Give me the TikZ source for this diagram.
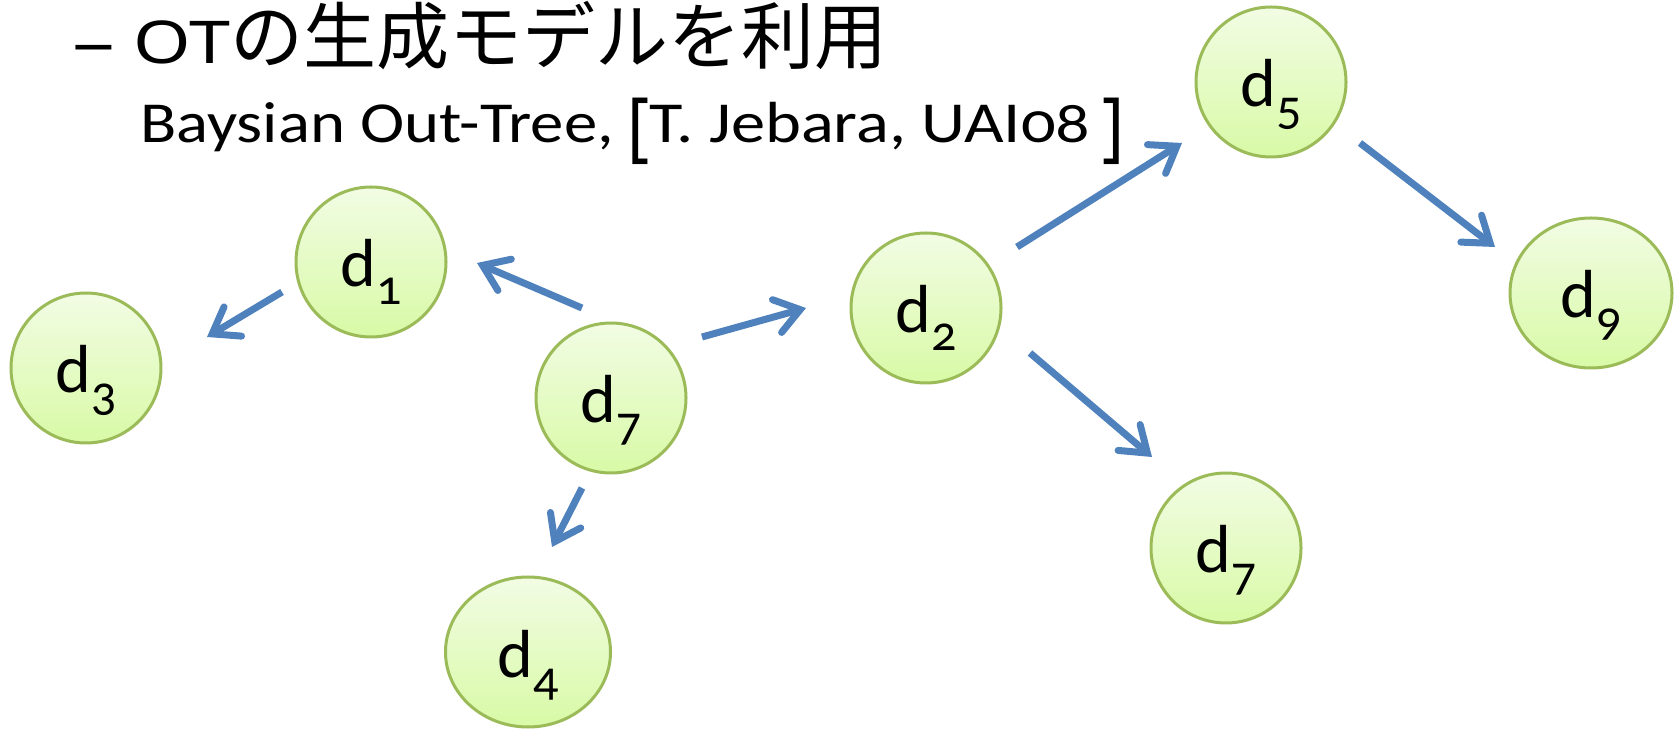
\documentclass[tikz,border=0pt]{standalone}
\usepackage{fontspec}
\setmainfont{Carlito}[Numbers=OldStyle]
\newfontfamily\jp{Noto Sans CJK JP}
\newfontfamily\headlatin{Noto Sans}
\usetikzlibrary{arrows.meta,shapes.geometric}

\definecolor{nodeedge}{RGB}{155,187,89}
\definecolor{nodetop}{RGB}{242,252,228}
\definecolor{nodebottom}{RGB}{216,250,166}
\definecolor{arrowblue}{RGB}{79,129,189}

\newcommand{\doc}[1]{d\raisebox{-18pt}{\fontsize{50}{50}\selectfont #1}}
\newcommand{\tallbracket}[1]{\raisebox{-10pt}{\scalebox{1.1}[1.25]{\headlatin\fontsize{61}{61}\selectfont #1}}}

\tikzset{
  docnode/.style={ellipse, draw=nodeedge, line width=3pt,
    top color=nodetop, bottom color=nodebottom,
    minimum width=150pt, minimum height=150pt, inner sep=0pt,
    font=\fontsize{68}{68}\selectfont, text height=50pt, text depth=0pt},
  arr/.style={draw=arrowblue, line width=7pt,
    -{Straight Barb[length=24pt,width=34pt,line cap=round,line join=miter]}},
}

\begin{document}
\begin{tikzpicture}[x=1pt,y=1pt]
\useasboundingbox (0,0) rectangle (1675,728);

% heading and reference line
\node[anchor=base west, inner sep=0pt] (title) at (72,664)
  {{\headlatin\fontsize{59}{62}\selectfont\scalebox{1.45}[1]{–}\hspace{19pt}\scalebox{1.25}[1]{OT}}%
   {\jp\fontsize{73}{76}\selectfont の生成モデルを利用}};
\node[anchor=base west, inner sep=0pt] (ref) at (140,585)
  {\fontsize{58}{62}\selectfont
   \scalebox{1.15}[1]{Baysian Out-Tree,}\kern14pt\tallbracket{[}\kern0pt%
   \scalebox{1.18}[1]{T. Jebara, UAI08}\kern12pt\tallbracket{]}};

% documents of the out-tree
\node[docnode] (d1) at (371,466) {\doc{1}};
\node[docnode] (d7) at (611,330) {\doc{7}};
\node[docnode] (d3) at (86,360) {\doc{3}};
\node[docnode, minimum width=165pt] (d4) at (528,76) {\doc{4}};
\node[docnode] (d2) at (926,420) {\doc{2}};
\node[docnode] (d5) at (1271,646) {\doc{5}};
\node[docnode, minimum width=162pt] (d9) at (1591,435) {\doc{9}};
\node[docnode] (d7b) at (1226,180) {\doc{7}};

% directed edges
\draw[arr] ([shift={(-29,90)}]d7.center) -- ([shift={(106,-1)}]d1.center);
\draw[arr] ([shift={(-89,-30)}]d1.center) -- ([shift={(121,31)}]d3.center);
\draw[arr] ([shift={(-29,-90)}]d7.center) -- ([shift={(24,105)}]d4.center);
\draw[arr] ([shift={(91,61)}]d7.center) -- ([shift={(-120,0)}]d2.center);
\draw[arr] ([shift={(91,61)}]d2.center) -- ([shift={(-89,-61)}]d5.center);
\draw[arr] ([shift={(104,-45)}]d2.center) -- ([shift={(-74,91)}]d7b.center);
\draw[arr] ([shift={(89,-61)}]d5.center) -- ([shift={(-96,46)}]d9.center);
\end{tikzpicture}
\end{document}
